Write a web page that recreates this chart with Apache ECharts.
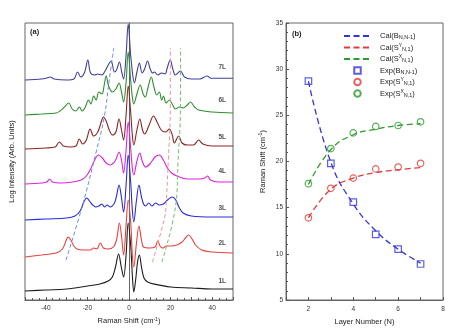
<!DOCTYPE html>
<html><head><meta charset="utf-8">
<script src="https://cdn.jsdelivr.net/npm/echarts@6/dist/echarts.min.js"></script>
<style>html,body{margin:0;padding:0;background:#fff}#c{width:474px;height:333px}</style>
</head><body><div id="c"></div><script>
// ---------- Panel (a): spectra [Raman shift, log intensity (arb.)] ----------
const spec1L = [[-50,9],[-40,10],[-30,11],[-20,14],[-14,16],[-10,19],[-8,23],[-6.5,33],[-5,46],[-3.8,34],[-2.6,23],[-1.4,45],[-0.4,77],[0.8,55],[1.6,25],[2.3,8],[3.3,22],[4.1,38],[5,45],[6,33],[7.2,22],[9,18],[12,16],[20,13],[30,12],[40,11],[50,11]];
const spec2L = [[-50,43],[-42,45],[-35,47],[-32,51],[-30.5,58],[-29.3,63],[-28,60],[-26.5,54],[-25,51],[-22,50],[-18.5,50],[-17,52],[-15.5,51],[-13.8,57],[-12.3,52],[-10,51],[-7.5,53],[-6,60],[-4.6,77],[-3.5,62],[-2.6,45],[-1.4,75],[-0.4,100],[0.8,78],[1.6,45],[2.3,33],[3.5,55],[4.8,74],[6,60],[7,53],[10,52],[12.5,53],[13.8,59],[15.2,53],[16.5,52],[17.9,54],[20,54],[23,55],[25.5,58],[27.5,63],[28.7,65],[30.3,61],[32,55],[35,50],[40,48],[50,47]];
const spec3L = [[-50,80],[-40,81],[-30,82],[-26,84],[-23.5,89],[-21.5,99],[-20.3,102],[-19,99],[-17.5,95],[-16,93],[-14.5,94],[-13,96],[-11.8,93],[-10.5,95],[-9,93],[-7,97],[-6,104],[-4.8,115],[-3.6,102],[-2.6,88],[-1.4,115],[-0.4,145],[0.8,118],[1.6,90],[2.3,78],[3.5,98],[4.8,115],[6,103],[7,96],[8,94],[9.5,97],[11,94],[12.8,97],[14.5,95],[16.5,96],[18.5,100],[20.8,103],[22.5,100],[24,93],[26,87],[30,84],[40,83],[50,83]];
const spec4L = [[-50,116],[-42,117],[-39.5,118],[-38.2,121],[-36.8,118],[-33,117],[-27,118],[-23,120],[-20.5,124],[-18.5,131],[-16.5,140],[-14.7,145],[-12.8,142],[-11,137],[-9,135],[-7,138],[-6,142],[-4.8,148],[-3.6,140],[-2.6,127],[-1.4,150],[-0.4,178],[0.8,152],[1.6,132],[2.3,125],[3.7,138],[5.2,147],[6.5,138],[8,133],[10,136],[12.5,143],[14.6,145],[16.5,140],[18.5,132],[20.5,127],[23,124],[28,121],[34,121],[36.5,122],[37.8,124],[39.2,120],[43,118],[50,118]];
const spec5L = [[-50,151],[-40,152],[-35.5,153],[-33.5,158],[-31.5,154],[-28,153],[-25.5,154],[-23.9,161],[-22.3,156],[-20.5,160],[-18.7,171],[-17,164],[-15,168],[-13.5,177],[-12.3,183],[-11,179],[-9.5,170],[-8,165],[-6.3,168],[-4.8,181],[-3.6,170],[-2.6,160],[-1.4,185],[-0.4,214],[0.8,188],[1.6,165],[2.3,155],[3.8,170],[5.2,181],[6.5,170],[7.5,166],[9.5,174],[11.8,184],[13.5,178],[15.5,170],[17.5,168],[19.4,171],[20.8,165],[21.8,157],[23.9,164],[25.5,157],[28,155],[31,155],[33.5,160],[35.5,156],[40,154],[50,154]];
const spec6L = [[-50,185],[-42,186],[-35,187],[-31.5,192],[-29,197],[-27.3,191],[-25.5,189],[-23.9,193],[-22.5,189],[-21,193],[-19.5,200],[-18.3,196],[-17,204],[-15.8,200],[-14.5,208],[-13,206],[-12,214],[-11,224],[-9.8,214],[-8,208],[-6.3,211],[-4.8,217],[-3.6,208],[-2.6,198],[-1.4,218],[-0.4,248],[0.8,220],[1.6,203],[2.3,196],[3.8,206],[5.4,215],[6.8,206],[7.8,203],[9.2,213],[10.7,223],[12,213],[13.3,205],[14.6,208],[15.7,200],[16.6,204],[17.8,197],[19.4,200],[21,195],[22.3,191],[24.2,193],[26,192],[28,195],[29.5,198],[31.5,193],[33.5,190],[40,188],[50,187]];
const spec7L = [[-50,220],[-42,221],[-39.5,222],[-37.8,223],[-36,221],[-30,220],[-26.5,221],[-24.7,228],[-23.2,223],[-21.3,228],[-19.8,240],[-18.5,227],[-16.5,225],[-15,226],[-13,225],[-11.5,229],[-10,235],[-8.6,239],[-7,228],[-6,230],[-4.6,238],[-3.5,228],[-2.6,221],[-1.4,245],[-0.4,276],[0.8,245],[1.8,225],[2.6,217],[3.8,228],[5,237],[6.3,227],[7.5,231],[8.9,239],[10.2,231],[11.3,227],[12.3,228],[13.8,225],[15.7,227],[17.3,226],[18.5,233],[19.8,240],[21.2,230],[22.3,225],[24.7,229],[26.7,223],[30,221],[34,221],[37.5,224],[39.5,221.7],[45,221.7],[50,221.7]];
const spectra = [spec1L, spec2L, spec3L, spec4L, spec5L, spec6L, spec7L];
const specNames = ['1L','2L','3L','4L','5L','6L','7L'];
const specLabelLevel = [19, 57, 92, 129, 163, 200, 233];
const specLabelShift = 44.8;
// guide lines following the peaks
const guideB  = [[-30.3,40],[-22.3,95],[-15.8,148],[-11.8,184],[-9.5,220],[-7.3,252]];
const guideSY = [[11.3,38],[17.1,82],[17.75,93],[18.9,140],[19.85,188],[19.9,252]];
const guideSX = [[15.8,38],[22.4,94],[23.6,140],[24.7,188],[24.8,252]];

// ---------- Panel (b) ----------
const layers = [2, 3, 4, 5, 6, 7];
const expB  = [28.7, 19.8, 15.6, 12.1, 10.5, 8.9];
const expSY = [13.9, 17.1, 18.2, 19.2, 19.4, 19.8];
const expSX = [17.6, 21.4, 23.1, 23.8, 23.9, 24.3];
const calB  = [28.7, 19.9, 15.4, 12.5, 10.5, 9.0];
const calSY = [13.9, 17.0, 18.2, 18.8, 19.1, 19.35];
const calSX = [17.5, 21.3, 22.9, 23.5, 23.9, 24.1];

const FONT = 'Liberation Sans, Arial, sans-serif';
const specColors = ['#1c1c1c','#e8413c','#2b2bd8','#e020e0','#8b2525','#2f8f2f','#3f3f9f'];
const cB = '#3535dd', cR = '#e23b3b', cG = '#2c9a2c';

const pairs = (xs, ys) => xs.map((x, i) => [x, ys[i]]);

const legendRich = {
  'Cal(B N,N-1)': '{n|Cal(B}{s|N,N-1}{n|)}',
  'Cal(S Y N,1)': '{n|Cal(S}{p|Y}{s|N,1}{n|)}',
  'Cal(S X N,1)': '{n|Cal(S}{p|X}{s|N,1}{n|)}',
  'Exp(B N,N-1)': '{n|Exp(B}{s|N,N-1}{n|)}',
  'Exp(S Y N,1)': '{n|Exp(S}{p|Y}{s|N,1}{n|)}',
  'Exp(S X N,1)': '{n|Exp(S}{p|X}{s|N,1}{n|)}'
};

const series = [];
spectra.forEach((d, i) => {
  series.push({
    type: 'line', xAxisIndex: 0, yAxisIndex: 0, data: d, smooth: 0.35,
    symbol: 'none', lineStyle: { color: specColors[i], width: 1.1 }, silent: true, z: 2 + i
  });
});
[[guideB, '#6f8be6'], [guideSY, '#f19595'], [guideSX, '#72c072']].forEach(([d, c]) => {
  series.push({
    type: 'line', xAxisIndex: 0, yAxisIndex: 0, data: d, smooth: 0.4, symbol: 'none',
    lineStyle: { color: c, width: 1, type: [4, 2.5] }, silent: true, z: 20
  });
});
series.push({
  type: 'scatter', xAxisIndex: 0, yAxisIndex: 0, symbolSize: 0, silent: true, z: 25,
  data: specNames.map((n, i) => ({ name: n, value: [specLabelShift, specLabelLevel[i]] })),
  label: { show: true, position: 'inside', formatter: p => p.name, fontSize: 6.5, fontWeight: 'bold', color: '#222', fontFamily: FONT }
});
[['Cal(B N,N-1)', calB, cB], ['Cal(S Y N,1)', calSY, cR], ['Cal(S X N,1)', calSX, cG]].forEach(([n, d, c]) => {
  series.push({
    name: n, type: 'line', xAxisIndex: 1, yAxisIndex: 1, data: pairs(layers, d), smooth: 0.45,
    symbol: 'none', lineStyle: { color: c, width: 1.3, type: [6, 3.5] }, itemStyle: { color: c }
  });
});
[['Exp(B N,N-1)', expB, cB, 'rect'], ['Exp(S Y N,1)', expSY, cR, 'circle'], ['Exp(S X N,1)', expSX, cG, 'circle']].forEach(([n, d, c, s]) => {
  series.push({
    name: n, type: 'scatter', xAxisIndex: 1, yAxisIndex: 1, data: pairs(layers, d), symbol: s, symbolSize: 6.5,
    itemStyle: { color: 'rgba(255,255,255,0)', borderColor: c, borderWidth: 1.2 }, z: 10
  });
});

const axisLine = { show: true, lineStyle: { color: '#666', width: 1 } };
const lbl = { fontSize: 6.5, color: '#333', fontFamily: FONT };
const nameRich = { a: { fontSize: 7.5, color: '#222', fontFamily: FONT }, b: { fontSize: 5, color: '#222', fontFamily: FONT, verticalAlign: 'top', padding: [0, 0, 4, 0] } };

const squareIcon = 'path://M0,0L10,0L10,10L0,10Z';
const option = {
  animation: false,
  backgroundColor: '#fff',
  title: [
    { text: '(a)', left: 30, top: 28, padding: 0, textStyle: { fontSize: 7.5, fontWeight: 'bold', color: '#222', fontFamily: FONT } },
    { text: '(b)', left: 292, top: 30, padding: 0, textStyle: { fontSize: 7.5, fontWeight: 'bold', color: '#222', fontFamily: FONT } }
  ],
  legend: {
    orient: 'vertical', left: 343, top: 31.5, padding: 0, itemWidth: 27, itemHeight: 6.5, itemGap: 2.5,
    symbolKeepAspect: true,
    data: [
      { name: 'Cal(B N,N-1)', itemStyle: { opacity: 0 } },
      { name: 'Cal(S Y N,1)', itemStyle: { opacity: 0 } },
      { name: 'Cal(S X N,1)', itemStyle: { opacity: 0 } },
      { name: 'Exp(B N,N-1)', icon: squareIcon },
      { name: 'Exp(S Y N,1)' },
      { name: 'Exp(S X N,1)' }
    ],
    formatter: n => legendRich[n],
    textStyle: {
      padding: [0, 0, 0, 4],
      rich: {
        n: { fontSize: 7.5, color: '#222', fontFamily: FONT, lineHeight: 9 },
        s: { fontSize: 5.5, color: '#222', fontFamily: FONT, lineHeight: 9, verticalAlign: 'bottom', padding: [3, 0, 0, 0] },
        p: { fontSize: 5, color: '#222', fontFamily: FONT, lineHeight: 9, verticalAlign: 'top', padding: [0, 0, 3, 0] }
      }
    }
  },
  grid: [
    { left: 25, top: 23, width: 208, height: 277, show: true, borderColor: '#666', borderWidth: 1 },
    { left: 286, top: 23, width: 157, height: 277, show: true, borderColor: '#666', borderWidth: 1 }
  ],
  xAxis: [
    {
      gridIndex: 0, type: 'value', min: -50, max: 50, interval: 10,
      axisLine, axisTick: { inside: true, length: 3, lineStyle: { color: '#555' } },
      minorTick: { show: true, splitNumber: 3, length: 2, lineStyle: { color: '#555' } },
      splitLine: { show: false },
      axisLabel: Object.assign({ margin: 5, formatter: v => (v % 20 === 0 ? String(v) : '') }, lbl),
      name: '{a|Raman Shift (cm}{b|-1}{a|)}', nameLocation: 'middle', nameGap: 13,
      nameTextStyle: { rich: nameRich }
    },
    {
      gridIndex: 1, type: 'value', min: 1, max: 8, interval: 1,
      axisLine, axisTick: { inside: true, length: 3, lineStyle: { color: '#555' } },
      splitLine: { show: false },
      axisLabel: Object.assign({ margin: 6, formatter: v => (v % 2 === 0 ? String(v) : '') }, lbl),
      name: 'Layer Number (N)', nameLocation: 'middle', nameGap: 15,
      nameTextStyle: { fontSize: 7.5, color: '#222', fontFamily: FONT }
    }
  ],
  yAxis: [
    {
      gridIndex: 0, type: 'value', min: 0, max: 277,
      axisLine, axisTick: { show: false }, axisLabel: { show: false }, splitLine: { show: false },
      name: 'Log Intensity (Arb. Units)', nameLocation: 'middle', nameGap: 9, nameRotate: 90,
      nameTextStyle: { fontSize: 7.5, color: '#222', fontFamily: FONT }
    },
    {
      gridIndex: 1, type: 'value', min: 5, max: 35, interval: 5,
      axisLine, axisTick: { inside: true, length: 3, lineStyle: { color: '#555' } },
      minorTick: { show: true, splitNumber: 5, length: 2, lineStyle: { color: '#555' } },
      splitLine: { show: false },
      axisLabel: Object.assign({ margin: 3 }, lbl),
      name: '{a|Raman Shift (cm}{b|-1}{a|)}', nameLocation: 'middle', nameGap: 19, nameRotate: 90,
      nameTextStyle: { rich: nameRich }
    }
  ],
  series
};
const chart = echarts.init(document.getElementById('c'), null, { renderer: 'canvas' });
chart.setOption(option);
</script></body></html>
